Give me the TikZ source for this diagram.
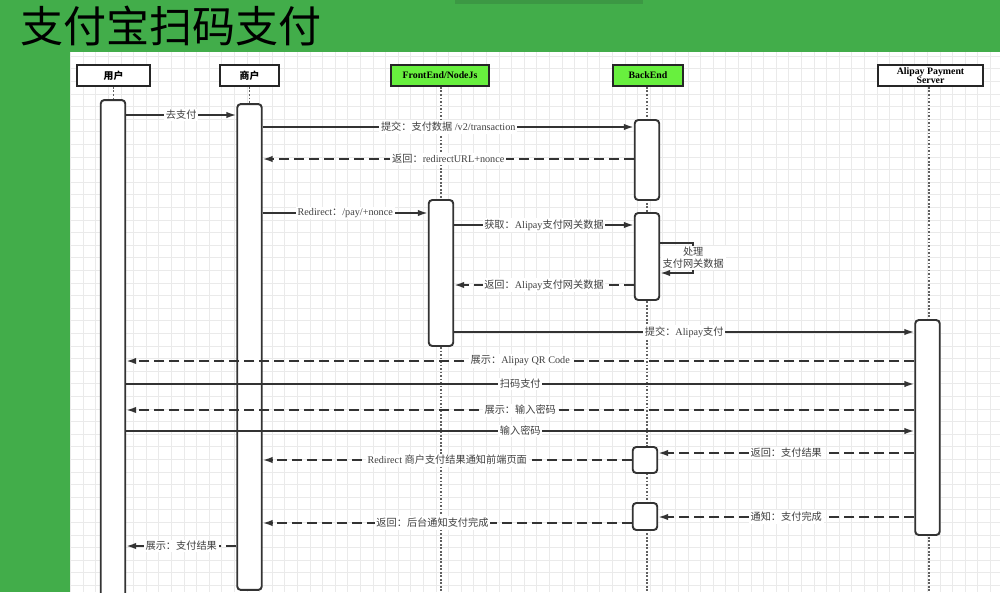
\documentclass[tikz,border=0pt]{standalone}
\usepackage{fontspec}
\setmainfont{Liberation Serif}
\newfontfamily\cjk{Noto Sans CJK SC}
\usepackage{tikz}
\usetikzlibrary{arrows.meta}

\definecolor{bggreen}{RGB}{66,173,74}
\definecolor{bargreen}{RGB}{60,152,68}
\definecolor{hdgreen}{RGB}{104,240,62}
\definecolor{gridgray}{RGB}{234,234,234}

\begin{document}
\begin{tikzpicture}[
    x=0.02cm, y=-0.02cm,
    actor/.style={draw=black!85, line width=1.1pt, minimum height=0.42cm, inner sep=1pt, align=center, font=\fontsize{5.6}{5.8}\selectfont\bfseries, fill=#1},
    actor/.default=white,
    actbar/.style={draw=black!80, line width=1.1pt, rounded corners=2pt, fill=white, minimum width=0.49cm, minimum height=#1, inner sep=0pt},
    life/.style={densely dotted, line width=1pt, gray!75!black},
    gridline/.style={gridgray, line width=0.5pt},
    msg/.style={-{Latex[length=2mm, width=1.3mm]}, line width=1pt, black!80},
    ret/.style={msg, dash pattern=on 2mm off 1mm},
    lbl/.style={fill=white, inner sep=1pt, font=\fontsize{5.8}{6.8}\selectfont, text=black!75},
  ]
  \useasboundingbox (0,0) rectangle (1000,592);

  % Slide background and grid paper
  \fill[bggreen] (0,0) rectangle (1000,592);
  \fill[bargreen] (455,0) rectangle (643,4);
  \fill[white] (70,52) rectangle (1000,592);
  \foreach \gx in {70.7,83.3,...,1000} \draw[gridline] (\gx,52) -- (\gx,592);
  \foreach \gy in {56.3,68.9,...,592} \draw[gridline] (70,\gy) -- (1000,\gy);

  % Title
  \node[anchor=west, inner sep=0pt, font=\cjk\fontsize{24.5}{28}\selectfont] (title) at (20,26.5) {支付宝扫码支付};

  % Participants
  \node[actor, minimum width=1.46cm] (usr) at (113.5,75.5) {\cjk 用户};
  \node[actor, minimum width=1.18cm] (mer) at (249.5,75.5) {\cjk 商户};
  \node[actor=hdgreen, minimum width=1.96cm] (fe) at (440,75.5) {FrontEnd/NodeJs};
  \node[actor=hdgreen, minimum width=1.4cm] (be) at (648,75.5) {BackEnd};
  \node[actor, minimum width=2.1cm, inner sep=0pt, font=\fontsize{5.6}{5.4}\selectfont\bfseries] (ali) at (930.5,75.5) {Alipay Payment\\Server};

  % Lifelines
  \coordinate (usr-end) at (113,600);
  \coordinate (mer-end) at (249,600);
  \coordinate (fe-end) at (441,600);
  \coordinate (be-end) at (647,600);
  \coordinate (ali-end) at (929,600);
  \draw[life] (usr.south) -- (usr.south |- usr-end);
  \draw[life] (mer.south) -- (mer.south |- mer-end);
  \draw[life] (fe.south -| fe-end) -- (fe-end);
  \draw[life] (be.south -| be-end) -- (be-end);
  \draw[life] (ali.south -| ali-end) -- (ali-end);

  % Activation bars
  \node[actbar=10cm] (usrbar) at (113,350) {};
  \node[actbar=9.72cm] (merbar) at (249.5,347) {};
  \node[actbar=2.92cm] (febar) at (441,273) {};
  \node[actbar=1.6cm] (bebarA) at (647,160) {};
  \node[actbar=1.74cm] (bebarB) at (647,256.5) {};
  \node[actbar=0.52cm] (bebarC) at (645,460) {};
  \node[actbar=0.54cm] (bebarD) at (645,516.5) {};
  \node[actbar=4.3cm] (alibar) at (927.5,427.5) {};

  % Messages
  \draw[msg] (usrbar.east |- 0,115) -- node[lbl] {\cjk 去支付} (merbar.west |- 0,115);
  \draw[msg] (merbar.east |- 0,127) -- node[lbl] {{\cjk 提交：支付数据} /v2/transaction} (bebarA.west |- 0,127);
  \draw[ret] (bebarA.west |- 0,159) -- node[lbl] {{\cjk 返回：}redirectURL+nonce} (merbar.east |- 0,159);
  \draw[msg] (merbar.east |- 0,213) -- node[lbl] {Redirect{\cjk ：}/pay/+nonce} (febar.west |- 0,213);
  \draw[msg] (febar.east |- 0,225) -- node[lbl] {{\cjk 获取：}Alipay{\cjk 支付网关数据}} (bebarB.west |- 0,225);
  \draw[msg] (bebarB.east |- 0,243) -- ++(33,0) |- node[lbl, pos=0.25, align=center] {\cjk 处理\\\cjk 支付网关数据} (bebarB.east |- 0,273);
  \draw[ret] (bebarB.west |- 0,285) -- node[lbl] {{\cjk 返回：}Alipay{\cjk 支付网关数据}} (febar.east |- 0,285);
  \draw[msg] (febar.east |- 0,332) -- node[lbl] {{\cjk 提交：}Alipay{\cjk 支付}} (alibar.west |- 0,332);
  \draw[ret] (alibar.west |- 0,361) -- node[lbl] {{\cjk 展示：}Alipay QR Code} (usrbar.east |- 0,361);
  \draw[msg] (usrbar.east |- 0,384) -- node[lbl] {\cjk 扫码支付} (alibar.west |- 0,384);
  \draw[ret] (alibar.west |- 0,410) -- node[lbl] {\cjk 展示：输入密码} (usrbar.east |- 0,410);
  \draw[msg] (usrbar.east |- 0,431) -- node[lbl] {\cjk 输入密码} (alibar.west |- 0,431);
  \draw[ret] (alibar.west |- 0,453) -- node[lbl] {\cjk 返回：支付结果} (bebarC.east |- 0,453);
  \draw[ret] (bebarC.west |- 0,460) -- node[lbl] {Redirect {\cjk 商户支付结果通知前端页面}} (merbar.east |- 0,460);
  \draw[ret] (alibar.west |- 0,517) -- node[lbl] {\cjk 通知：支付完成} (bebarD.east |- 0,517);
  \draw[ret] (bebarD.west |- 0,523) -- node[lbl, pos=0.54] {\cjk 返回：后台通知支付完成} (merbar.east |- 0,523);
  \draw[ret] (merbar.west |- 0,546) -- node[lbl] {\cjk 展示：支付结果} (usrbar.east |- 0,546);

\end{tikzpicture}
\end{document}
